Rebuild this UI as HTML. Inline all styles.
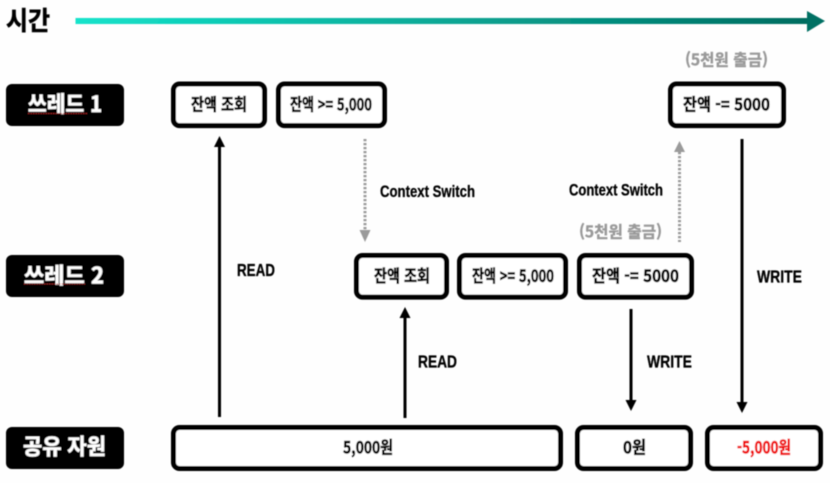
<!DOCTYPE html>
<html lang="ko">
<head>
<meta charset="utf-8">
<style>
html,body{margin:0;padding:0;background:#fefefe;width:830px;height:483px;overflow:hidden}
svg{display:block}
text{font-family:"Liberation Sans","Noto Sans CJK KR",sans-serif;font-weight:700;fill:#000;stroke:#000;stroke-width:.3}
text.k{font-family:"Noto Sans CJK KR","Liberation Sans",sans-serif;stroke-width:.6}
text.w{fill:#fff;stroke:#fff;stroke-width:.5}
text.g{fill:#9a9a9a;stroke:#9a9a9a;stroke-width:.4}
text.r{fill:#f01010;stroke:#f01010}
.box{fill:#fff;stroke:#000;stroke-width:5}
</style>
</head>
<body>
<svg width="830" height="483" viewBox="0 0 830 483" xmlns="http://www.w3.org/2000/svg">
<defs>
<linearGradient id="t" x1="75" x2="825" y1="0" y2="0" gradientUnits="userSpaceOnUse">
<stop offset="0" stop-color="#14e3cb"/>
<stop offset="1" stop-color="#006a5e"/>
</linearGradient>
<filter id="b" x="-2%" y="-2%" width="104%" height="104%"><feGaussianBlur stdDeviation="0.4"/></filter>
</defs>
<g filter="url(#b)">
<!-- timeline -->
<rect x="75.5" y="18" width="733" height="6" fill="url(#t)"/>
<polygon points="807,11 825,21 807,32" fill="#006f63"/>
<text class="k" x="6" y="30" font-size="26" textLength="44" lengthAdjust="spacingAndGlyphs">시간</text>

<!-- row labels -->
<rect x="6" y="84" width="118" height="42" rx="6" fill="#000"/>
<rect x="6" y="255" width="118" height="42" rx="6" fill="#000"/>
<rect x="6" y="427" width="118" height="42" rx="6" fill="#000"/>
<text class="k w" x="28" y="112" font-size="22" textLength="74" lengthAdjust="spacingAndGlyphs">쓰레드 1</text>
<text class="k w" x="24" y="283.5" font-size="22" textLength="80" lengthAdjust="spacingAndGlyphs">쓰레드 2</text>
<text class="k w" x="23" y="454.5" font-size="22" textLength="83" lengthAdjust="spacingAndGlyphs">공유 자원</text>
<line x1="28" y1="113.5" x2="87" y2="113.5" stroke="#c33" stroke-width="0.8" stroke-dasharray="1.5 1"/>
<line x1="24" y1="284" x2="85" y2="284" stroke="#c33" stroke-width="0.8" stroke-dasharray="1.5 1"/>

<!-- thread 1 boxes -->
<rect class="box" x="173.5" y="84" width="91" height="41.6" rx="6"/>
<rect class="box" x="278.5" y="84" width="106" height="41.6" rx="6"/>
<rect class="box" x="670.5" y="84" width="113" height="41.6" rx="6"/>
<text class="k" x="191" y="110.5" font-size="17" textLength="56" lengthAdjust="spacingAndGlyphs">잔액 조회</text>
<text class="k" x="290" y="110.5" font-size="17" textLength="82" lengthAdjust="spacingAndGlyphs">잔액 &gt;= 5,000</text>
<text class="k" x="683" y="110.5" font-size="17" textLength="87" lengthAdjust="spacingAndGlyphs">잔액 -= 5000</text>
<text class="k g" x="685" y="65.5" font-size="16" textLength="83" lengthAdjust="spacingAndGlyphs">(5천원 출금)</text>

<!-- thread 2 boxes -->
<rect class="box" x="356.5" y="255.5" width="90" height="41.6" rx="6"/>
<rect class="box" x="459.5" y="255.5" width="106" height="41.6" rx="6"/>
<rect class="box" x="579.5" y="255.5" width="112" height="41.6" rx="6"/>
<text class="k" x="374" y="282" font-size="17" textLength="56" lengthAdjust="spacingAndGlyphs">잔액 조회</text>
<text class="k" x="472" y="282" font-size="17" textLength="82" lengthAdjust="spacingAndGlyphs">잔액 &gt;= 5,000</text>
<text class="k" x="592" y="282" font-size="17" textLength="87" lengthAdjust="spacingAndGlyphs">잔액 -= 5000</text>
<text class="k g" x="579" y="237.5" font-size="16" textLength="83" lengthAdjust="spacingAndGlyphs">(5천원 출금)</text>

<!-- shared -->
<rect class="box" x="173.5" y="427.5" width="387" height="41" rx="6"/>
<rect class="box" x="577.5" y="427.5" width="113" height="41" rx="6"/>
<rect class="box" x="707.5" y="427.5" width="113" height="41" rx="6"/>
<text class="k" x="343" y="453.5" font-size="17" textLength="50" lengthAdjust="spacingAndGlyphs">5,000원</text>
<text class="k" x="623" y="453.5" font-size="17" textLength="23" lengthAdjust="spacingAndGlyphs">0원</text>
<text class="k r" x="737" y="453.5" font-size="17" textLength="54" lengthAdjust="spacingAndGlyphs">-5,000원</text>

<!-- solid arrows -->
<g fill="#000" stroke="none">
<rect x="218" y="146" width="3" height="271"/><polygon points="219.5,136 225,147 214,147"/>
<rect x="403.5" y="317" width="3" height="101"/><polygon points="405,307 410.5,318 399.5,318"/>
<rect x="629.5" y="309" width="3" height="92"/><polygon points="631,411 625.5,400 636.5,400"/>
<rect x="740.5" y="139" width="3" height="264"/><polygon points="742,413 736.5,402 747.5,402"/>
</g>

<!-- dotted arrows -->
<line x1="365" y1="139" x2="365" y2="230" stroke="#9a9a9a" stroke-width="3" stroke-dasharray="2.2 1.8"/>
<polygon points="365,242 359.5,230 370.5,230" fill="#9a9a9a"/>
<line x1="679.5" y1="152" x2="679.5" y2="242" stroke="#9a9a9a" stroke-width="3" stroke-dasharray="2.2 1.8"/>
<polygon points="679.5,141 685,152 674,152" fill="#9a9a9a"/>

<!-- connector labels -->
<text x="380" y="197" font-size="17" textLength="95" lengthAdjust="spacingAndGlyphs">Context Switch</text>
<text x="569" y="195.5" font-size="17" textLength="94" lengthAdjust="spacingAndGlyphs">Context Switch</text>
<text x="237" y="276" font-size="17.5" textLength="38" lengthAdjust="spacingAndGlyphs">READ</text>
<text x="418" y="367.5" font-size="17.5" textLength="39" lengthAdjust="spacingAndGlyphs">READ</text>
<text x="647" y="367.5" font-size="17.5" textLength="45" lengthAdjust="spacingAndGlyphs">WRITE</text>
<text x="757" y="282.5" font-size="17.5" textLength="45" lengthAdjust="spacingAndGlyphs">WRITE</text>
</g>
</svg>
</body>
</html>
